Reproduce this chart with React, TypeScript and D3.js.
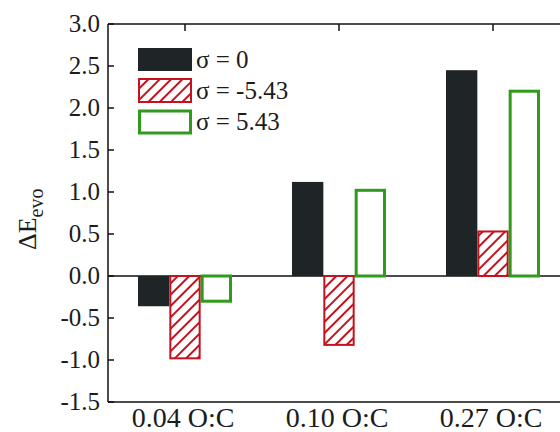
import React from "react";
import * as d3 from "d3";

const categories = ["0.04 O:C", "0.10 O:C", "0.27 O:C"];
const seriesNames = ["σ = 0", "σ = -5.43", "σ = 5.43"];
const sigma0 = [-0.36, 1.12, 2.45];
const sigmaNeg = [-0.98, -0.82, 0.53];
const sigmaPos = [-0.3, 1.02, 2.2];
const yTicks = [-1.5, -1.0, -0.5, 0.0, 0.5, 1.0, 1.5, 2.0, 2.5, 3.0];

const W = 560;
const H = 432;
const left = 108;
const right = 570;
const top = 24;
const bottom = 402;

const textColor = "#1c1c1c";
const black = "#1f2426";
const red = "#c4121f";
const green = "#2f9a1c";
const font = '"Liberation Serif"';

export default function App() {
  const x = d3.scaleBand<string>().domain(categories).range([left, right]).paddingInner(0).paddingOuter(0);
  const y = d3.scaleLinear().domain([-1.5, 3.0]).range([bottom, top]);
  const groupW = 94;
  const inner = d3.scaleBand<string>().domain(seriesNames).range([0, groupW]).padding(0);
  const values = [sigma0, sigmaNeg, sigmaPos];

  const bars: React.ReactNode[] = [];
  categories.forEach((c, ci) => {
    const gx = (x(c) as number) + x.bandwidth() / 2 - groupW / 2;
    values.forEach((vals, si) => {
      const v = vals[ci];
      const bx = gx + (inner(seriesNames[si]) as number);
      const bw = inner.bandwidth();
      const y0 = y(0);
      const y1 = y(v);
      const ry = Math.min(y0, y1);
      const rh = Math.abs(y1 - y0);
      if (si === 0) {
        bars.push(<rect key={`b${ci}${si}`} x={bx} y={ry} width={bw} height={rh} fill={black} />);
      } else if (si === 1) {
        bars.push(
          <rect key={`b${ci}${si}`} x={bx + 1} y={ry} width={bw - 2} height={rh} fill="url(#hatch)" stroke={red} strokeWidth={2} />
        );
      } else {
        bars.push(
          <rect key={`b${ci}${si}`} x={bx + 1.5} y={ry} width={bw - 3} height={rh} fill="white" stroke={green} strokeWidth={3} />
        );
      }
    });
  });

  const legendX = 138;
  const legendYs = [48, 79, 110];
  const legendW = 54;
  const legendH = 23;
  const ts: React.CSSProperties = { fontFamily: font };

  return (
    <svg width={W} height={H} style={{ position: "absolute", left: 0, top: 0, background: "white", fontFamily: font }}>
      <defs>
        <pattern id="hatch" patternUnits="userSpaceOnUse" width={8} height={8} patternTransform="rotate(45)">
          <rect x={0} y={0} width={8} height={8} fill="white" />
          <line x1={0} y1={0} x2={0} y2={8} stroke={red} strokeWidth={4} />
        </pattern>
      </defs>
      <rect x={0} y={0} width={W} height={H} fill="white" />
      <line x1={left} x2={right} y1={y(0)} y2={y(0)} stroke="#111" strokeWidth={1.5} />
      {bars}
      <line x1={left} x2={right} y1={top} y2={top} stroke="#111" strokeWidth={1.5} />
      <line x1={left} x2={right} y1={bottom} y2={bottom} stroke="#111" strokeWidth={1.5} />
      <line x1={left} x2={left} y1={top} y2={bottom} stroke="#111" strokeWidth={1.5} />
      {yTicks.map((t) => (
        <g key={t}>
          <line x1={left} x2={left + 6} y1={y(t)} y2={y(t)} stroke="#111" strokeWidth={1.5} />
          <text x={left - 8} y={y(t) + 8} textAnchor="end" fontSize={25} fill={textColor} style={ts}>
            {t.toFixed(1)}
          </text>
        </g>
      ))}
      {categories.map((c) => {
        const cx = (x(c) as number) + x.bandwidth() / 2;
        return (
          <g key={c}>
            <line x1={cx} x2={cx} y1={top} y2={top + 7} stroke="#111" strokeWidth={1.5} />
            <text x={cx - 2} y={427} textAnchor="middle" fontSize={28} fill={textColor} style={ts}>
              {c}
            </text>
          </g>
        );
      })}
      <text transform={`translate(36, 250) rotate(-90)`} textAnchor="start" fontSize={26} fill={textColor} style={ts}>
        ΔE
        <tspan fontSize={20} dy={7}>evo</tspan>
      </text>
      <rect x={legendX} y={legendYs[0]} width={legendW} height={legendH} fill={black} />
      <rect x={legendX + 1} y={legendYs[1]} width={legendW - 2} height={legendH} fill="url(#hatch)" stroke={red} strokeWidth={2} />
      <rect x={legendX + 1.5} y={legendYs[2] + 1} width={legendW - 3} height={legendH - 1} fill="white" stroke={green} strokeWidth={3} />
      {seriesNames.map((s, i) => (
        <text key={s} x={legendX + legendW + 4} y={legendYs[i] + legendH / 2 + 8} fontSize={25} fill={textColor} style={ts}>
          {s}
        </text>
      ))}
    </svg>
  );
}
